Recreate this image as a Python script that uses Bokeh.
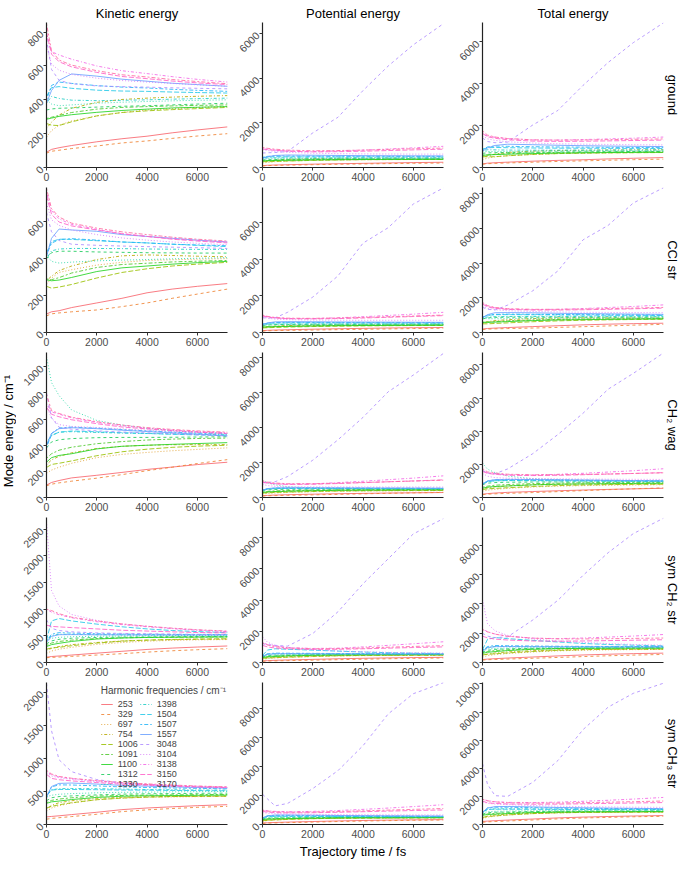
import math
from bokeh.plotting import figure
from bokeh.layouts import gridplot, row
from bokeh.models import Range1d, FixedTicker, SingleIntervalTicker, Title, Legend, LegendItem
from bokeh.core.properties import value
from bokeh.embed import file_html
from bokeh.resources import INLINE

TIME = [0, 200, 500, 1000, 2000, 3000, 4000, 5000, 6000, 7200]
FREQS = ["253", "329", "697", "754", "1006", "1091", "1100", "1312", "1330",
         "1398", "1504", "1507", "1557", "3048", "3104", "3138", "3150", "3170"]
COL_NAMES = ["Kinetic energy", "Potential energy", "Total energy"]
ROW_NAMES = ["ground", "CCl str", "CH\u2082 wag", "sym CH\u2082 str", "sym CH\u2083 str"]
X_TICKS = [0, 2000, 4000, 6000]
Y_TOP = [[857, 6500, 6930], [785, 7900, 8350], [1110, 8300, 8750],
         [2720, 9300, 9900], [2150, 9760, 10100]]
Y_STEP = [[200, 2000, 2000], [200, 2000, 2000], [200, 2000, 2000],
          [500, 2000, 2000], [500, 2000, 2000]]

# ---------------- ground ----------------
KIN_GROUND = [
    [90, 107, 117, 130, 152, 170, 185, 205, 222, 240],
    [85, 96, 102, 112, 127, 145, 157, 172, 186, 200],
    [180, 218, 250, 275, 305, 325, 340, 348, 355, 360],
    [230, 268, 310, 350, 385, 402, 410, 416, 421, 425],
    [260, 250, 248, 270, 305, 325, 335, 342, 348, 355],
    [290, 297, 308, 325, 345, 355, 360, 364, 367, 370],
    [285, 292, 302, 312, 326, 337, 345, 352, 356, 360],
    [340, 346, 350, 352, 357, 362, 365, 370, 375, 380],
    [400, 375, 365, 370, 380, 386, 390, 394, 397, 400],
    [380, 420, 408, 398, 395, 397, 400, 404, 407, 410],
    [420, 472, 478, 468, 457, 452, 450, 446, 443, 440],
    [400, 485, 505, 497, 484, 475, 470, 462, 456, 450],
    [380, 455, 515, 553, 540, 522, 510, 498, 490, 480],
    [760, 580, 515, 495, 482, 478, 475, 471, 468, 465],
    [720, 610, 575, 550, 528, 514, 505, 497, 489, 480],
    [780, 685, 665, 640, 600, 572, 555, 537, 521, 505],
    [800, 670, 625, 595, 562, 538, 525, 511, 500, 490],
    [850, 690, 635, 605, 572, 548, 535, 520, 508, 495],
]
POT_GROUND = [
    [80, 100, 112, 125, 150, 170, 185, 205, 220, 235],
    [70, 85, 95, 105, 125, 145, 160, 175, 188, 200],
    [200, 230, 260, 290, 320, 340, 350, 355, 358, 360],
    [250, 290, 330, 370, 400, 410, 415, 418, 420, 420],
    [260, 260, 270, 290, 320, 340, 350, 355, 358, 360],
    [300, 310, 320, 335, 355, 365, 372, 376, 378, 380],
    [300, 305, 315, 325, 340, 350, 358, 363, 367, 370],
    [340, 350, 360, 365, 375, 380, 383, 386, 388, 390],
    [380, 390, 395, 398, 402, 405, 407, 408, 409, 410],
    [420, 430, 435, 435, 433, 432, 431, 430, 430, 430],
    [450, 470, 480, 478, 475, 472, 471, 470, 470, 470],
    [450, 500, 520, 515, 510, 505, 503, 502, 501, 500],
    [400, 480, 540, 560, 550, 540, 532, 527, 523, 520],
    [650, 660, 670, 720, 1550, 2250, 3450, 4550, 5500, 6450],
    [800, 760, 720, 680, 640, 620, 610, 605, 600, 600],
    [850, 820, 780, 740, 720, 740, 780, 830, 880, 950],
    [830, 800, 770, 730, 700, 710, 730, 760, 790, 820],
    [900, 860, 820, 780, 750, 760, 780, 810, 840, 870],
]
TOT_GROUND = [
    [170, 207, 229, 255, 302, 340, 370, 410, 442, 475],
    [155, 181, 197, 217, 252, 290, 317, 347, 374, 400],
    [380, 448, 510, 565, 625, 665, 690, 703, 713, 720],
    [480, 558, 640, 720, 785, 812, 825, 834, 841, 845],
    [520, 510, 518, 560, 625, 665, 685, 697, 706, 715],
    [590, 607, 628, 660, 700, 720, 732, 740, 745, 750],
    [585, 597, 617, 637, 666, 687, 703, 715, 723, 730],
    [680, 696, 710, 717, 732, 742, 748, 756, 763, 770],
    [780, 765, 760, 768, 782, 791, 797, 802, 806, 810],
    [800, 850, 843, 833, 828, 829, 831, 834, 837, 840],
    [870, 942, 958, 946, 932, 924, 921, 916, 913, 910],
    [850, 985, 1025, 1012, 994, 980, 973, 964, 957, 950],
    [780, 935, 1055, 1113, 1090, 1062, 1042, 1025, 1013, 1000],
    [1410, 1240, 1185, 1215, 2032, 2728, 3925, 5021, 5968, 6915],
    [1520, 1370, 1295, 1230, 1168, 1134, 1115, 1102, 1089, 1080],
    [1630, 1505, 1445, 1380, 1320, 1312, 1335, 1367, 1401, 1455],
    [1630, 1470, 1395, 1325, 1262, 1248, 1255, 1271, 1290, 1310],
    [1750, 1550, 1455, 1385, 1322, 1308, 1315, 1330, 1348, 1365],
]

# ---------------- CCl str ----------------
KIN_CCL = [
    [100, 112, 118, 135, 160, 185, 215, 235, 250, 265],
    [90, 101, 106, 112, 122, 140, 160, 185, 208, 235],
    [260, 295, 325, 340, 365, 380, 390, 394, 397, 400],
    [280, 305, 335, 360, 395, 415, 420, 417, 413, 410],
    [250, 240, 246, 260, 295, 325, 345, 360, 370, 380],
    [290, 286, 297, 322, 352, 368, 375, 382, 386, 390],
    [285, 280, 284, 298, 330, 350, 360, 370, 378, 385],
    [400, 432, 440, 440, 436, 434, 432, 431, 430, 430],
    [420, 385, 376, 381, 388, 392, 395, 399, 402, 405],
    [400, 442, 452, 455, 455, 454, 452, 451, 450, 450],
    [430, 492, 505, 504, 497, 490, 485, 478, 472, 465],
    [420, 483, 503, 508, 500, 490, 485, 478, 474, 470],
    [410, 510, 560, 555, 548, 530, 520, 510, 500, 490],
    [650, 545, 498, 478, 472, 468, 465, 462, 459, 455],
    [700, 610, 580, 555, 530, 512, 500, 490, 483, 475],
    [760, 660, 615, 585, 558, 535, 520, 508, 499, 490],
    [740, 640, 598, 577, 555, 535, 520, 505, 495, 485],
    [780, 670, 625, 592, 565, 545, 530, 516, 505, 495],
]
POT_CCL = [
    [100, 120, 135, 150, 180, 205, 225, 245, 260, 270],
    [80, 95, 105, 115, 135, 155, 175, 195, 215, 235],
    [250, 290, 320, 340, 360, 375, 385, 390, 395, 400],
    [280, 320, 350, 380, 410, 420, 425, 425, 425, 425],
    [250, 260, 275, 295, 325, 345, 360, 370, 378, 385],
    [300, 310, 325, 345, 370, 385, 395, 400, 405, 410],
    [300, 305, 315, 330, 355, 370, 380, 388, 395, 400],
    [380, 410, 430, 440, 445, 448, 450, 452, 454, 455],
    [400, 410, 415, 420, 425, 430, 432, 435, 437, 440],
    [430, 450, 460, 465, 468, 470, 472, 474, 475, 476],
    [450, 500, 520, 525, 525, 522, 520, 518, 516, 515],
    [450, 510, 540, 550, 548, 545, 543, 541, 540, 540],
    [420, 520, 580, 590, 585, 575, 570, 565, 560, 555],
    [800, 790, 800, 1100, 1930, 3080, 4870, 5710, 7000, 7880],
    [850, 780, 730, 700, 680, 670, 665, 665, 665, 665],
    [920, 860, 800, 760, 760, 800, 860, 930, 1000, 1100],
    [900, 840, 790, 750, 740, 760, 790, 830, 870, 920],
    [950, 880, 820, 780, 770, 790, 820, 860, 900, 950],
]
TOT_CCL = [
    [200, 232, 253, 285, 340, 390, 440, 480, 510, 535],
    [170, 196, 211, 227, 257, 295, 335, 380, 423, 470],
    [510, 585, 645, 680, 725, 755, 775, 784, 792, 800],
    [560, 625, 685, 740, 805, 835, 845, 842, 838, 835],
    [500, 500, 521, 555, 620, 670, 705, 730, 748, 765],
    [590, 596, 622, 667, 722, 753, 770, 782, 791, 800],
    [585, 585, 599, 628, 685, 720, 740, 758, 773, 785],
    [780, 842, 870, 880, 881, 882, 882, 883, 884, 885],
    [820, 795, 791, 801, 813, 822, 827, 834, 839, 845],
    [830, 892, 912, 920, 923, 924, 924, 925, 925, 926],
    [880, 992, 1025, 1029, 1022, 1012, 1005, 996, 988, 980],
    [870, 993, 1043, 1058, 1048, 1035, 1028, 1019, 1014, 1010],
    [830, 1030, 1140, 1145, 1133, 1105, 1090, 1075, 1060, 1045],
    [1450, 1335, 1298, 1578, 2402, 3548, 5335, 6172, 7459, 8335],
    [1550, 1390, 1310, 1255, 1210, 1182, 1165, 1155, 1148, 1140],
    [1680, 1520, 1415, 1345, 1318, 1335, 1380, 1438, 1499, 1590],
    [1640, 1480, 1388, 1327, 1295, 1295, 1310, 1335, 1365, 1405],
    [1730, 1550, 1445, 1372, 1335, 1335, 1350, 1376, 1405, 1445],
]

# ---------------- CH2 wag ----------------
KIN_WAG = [
    [95, 115, 130, 150, 170, 192, 215, 233, 252, 270],
    [90, 102, 112, 125, 148, 175, 205, 232, 260, 290],
    [185, 210, 232, 262, 305, 330, 345, 358, 368, 380],
    [250, 288, 315, 342, 375, 392, 400, 404, 405, 405],
    [230, 253, 262, 280, 320, 350, 370, 384, 393, 400],
    [300, 335, 362, 385, 412, 428, 440, 447, 452, 455],
    [270, 305, 322, 335, 372, 392, 400, 407, 413, 420],
    [380, 425, 442, 451, 458, 460, 460, 461, 463, 465],
    [1080, 880, 780, 670, 590, 555, 530, 512, 500, 490],
    [420, 475, 500, 504, 498, 493, 490, 487, 484, 480],
    [400, 475, 500, 509, 503, 496, 490, 484, 479, 475],
    [380, 490, 532, 539, 531, 520, 510, 500, 492, 485],
    [400, 490, 527, 534, 527, 515, 505, 495, 485, 470],
    [800, 610, 538, 523, 510, 501, 495, 488, 481, 475],
    [700, 605, 558, 544, 536, 525, 515, 505, 497, 490],
    [720, 655, 638, 610, 575, 550, 530, 516, 505, 495],
    [690, 637, 618, 595, 565, 540, 525, 512, 500, 490],
    [790, 665, 643, 615, 580, 555, 535, 521, 510, 500],
]
POT_WAG = [
    [100, 120, 140, 160, 190, 215, 235, 255, 270, 285],
    [90, 100, 110, 125, 150, 180, 210, 240, 265, 290],
    [200, 230, 260, 290, 330, 355, 370, 380, 385, 390],
    [260, 300, 330, 360, 395, 410, 415, 418, 420, 420],
    [250, 270, 290, 310, 345, 370, 385, 395, 400, 405],
    [320, 350, 380, 400, 425, 440, 450, 455, 458, 460],
    [290, 320, 340, 360, 390, 410, 420, 428, 434, 440],
    [400, 440, 460, 470, 475, 478, 480, 482, 484, 485],
    [1000, 830, 720, 620, 545, 515, 500, 490, 485, 480],
    [440, 490, 510, 515, 512, 510, 508, 506, 505, 504],
    [420, 480, 510, 520, 520, 518, 515, 512, 510, 508],
    [400, 500, 540, 550, 548, 545, 540, 536, 533, 530],
    [420, 510, 550, 560, 555, 550, 545, 540, 535, 530],
    [840, 860, 900, 1200, 2135, 3300, 4590, 6050, 7010, 8250],
    [750, 680, 640, 620, 610, 605, 602, 600, 600, 600],
    [900, 840, 790, 760, 780, 850, 930, 1020, 1110, 1240],
    [880, 820, 780, 750, 760, 800, 850, 900, 950, 1010],
    [950, 880, 830, 790, 790, 820, 860, 900, 940, 990],
]
TOT_WAG = [
    [195, 235, 270, 310, 360, 407, 450, 488, 522, 555],
    [180, 202, 222, 250, 298, 355, 415, 472, 525, 580],
    [385, 440, 492, 552, 635, 685, 715, 738, 753, 770],
    [510, 588, 645, 702, 770, 802, 815, 822, 825, 825],
    [480, 523, 552, 590, 665, 720, 755, 779, 793, 805],
    [620, 685, 742, 785, 837, 868, 890, 902, 910, 915],
    [560, 625, 662, 695, 762, 802, 820, 835, 847, 860],
    [780, 865, 902, 921, 933, 938, 940, 943, 947, 950],
    [2080, 1710, 1500, 1290, 1135, 1070, 1030, 1002, 985, 970],
    [860, 965, 1010, 1019, 1010, 1003, 998, 993, 989, 984],
    [820, 955, 1010, 1029, 1023, 1014, 1005, 996, 989, 983],
    [780, 990, 1072, 1089, 1079, 1065, 1050, 1036, 1025, 1015],
    [820, 1000, 1077, 1094, 1082, 1065, 1050, 1035, 1020, 1000],
    [1640, 1470, 1438, 1723, 2645, 3801, 5085, 6538, 7491, 8725],
    [1450, 1285, 1198, 1164, 1146, 1130, 1117, 1105, 1097, 1090],
    [1620, 1495, 1428, 1370, 1355, 1400, 1460, 1536, 1615, 1735],
    [1570, 1457, 1398, 1345, 1325, 1340, 1375, 1412, 1450, 1500],
    [1740, 1545, 1473, 1405, 1370, 1375, 1395, 1421, 1450, 1490],
]

# ---------------- sym CH2 str ----------------
KIN_CH2 = [
    [100, 112, 122, 140, 175, 210, 245, 270, 290, 310],
    [90, 96, 102, 115, 140, 165, 195, 220, 240, 260],
    [170, 215, 250, 285, 340, 375, 400, 415, 425, 430],
    [230, 265, 300, 335, 375, 405, 420, 428, 434, 440],
    [250, 272, 285, 315, 365, 400, 420, 432, 440, 445],
    [320, 365, 395, 420, 450, 462, 470, 474, 477, 480],
    [300, 335, 360, 395, 440, 460, 470, 474, 477, 480],
    [350, 405, 435, 455, 470, 477, 480, 484, 487, 490],
    [420, 455, 472, 484, 492, 497, 500, 504, 507, 510],
    [420, 505, 530, 528, 522, 520, 520, 520, 520, 520],
    [420, 780, 825, 780, 720, 670, 630, 600, 580, 560],
    [400, 530, 560, 552, 540, 534, 530, 527, 525, 525],
    [380, 490, 522, 523, 520, 518, 515, 515, 515, 515],
    [800, 640, 600, 575, 555, 545, 540, 533, 528, 525],
    [2650, 1350, 1060, 900, 790, 720, 680, 640, 610, 580],
    [1000, 945, 895, 840, 765, 710, 670, 635, 605, 580],
    [700, 678, 668, 655, 630, 605, 590, 575, 562, 555],
    [1000, 975, 915, 850, 780, 725, 680, 645, 615, 590],
]
POT_CH2 = [
    [100, 120, 140, 165, 200, 240, 270, 295, 315, 330],
    [80, 95, 105, 120, 150, 180, 210, 240, 265, 290],
    [200, 250, 290, 330, 380, 420, 440, 450, 455, 460],
    [260, 310, 350, 390, 430, 455, 465, 470, 475, 475],
    [270, 290, 310, 340, 390, 430, 455, 465, 470, 475],
    [340, 390, 420, 450, 480, 495, 502, 506, 508, 510],
    [320, 360, 385, 420, 460, 485, 495, 500, 503, 505],
    [370, 430, 460, 480, 495, 505, 510, 512, 515, 518],
    [440, 470, 490, 505, 515, 520, 525, 528, 530, 532],
    [430, 530, 560, 565, 560, 555, 552, 550, 550, 550],
    [450, 800, 880, 850, 790, 730, 670, 630, 600, 580],
    [420, 560, 600, 595, 585, 575, 570, 566, 563, 560],
    [400, 520, 560, 565, 560, 558, 555, 553, 552, 550],
    [1200, 1150, 1100, 1050, 1860, 3250, 5050, 6650, 8250, 9230],
    [1650, 1300, 1100, 950, 820, 740, 690, 650, 620, 600],
    [1300, 1150, 1050, 960, 900, 920, 1000, 1100, 1200, 1330],
    [1100, 1000, 930, 880, 840, 850, 880, 920, 960, 1000],
    [1250, 1120, 1020, 940, 880, 890, 930, 980, 1030, 1080],
]
TOT_CH2 = [
    [200, 232, 262, 305, 375, 450, 515, 565, 605, 640],
    [170, 191, 207, 235, 290, 345, 405, 460, 505, 550],
    [370, 465, 540, 615, 720, 795, 840, 865, 880, 890],
    [490, 575, 650, 725, 805, 860, 885, 898, 909, 915],
    [520, 562, 595, 655, 755, 830, 875, 897, 910, 920],
    [660, 755, 815, 870, 930, 957, 972, 980, 985, 990],
    [620, 695, 745, 815, 900, 945, 965, 974, 980, 985],
    [720, 835, 895, 935, 965, 982, 990, 996, 1002, 1008],
    [860, 925, 962, 989, 1007, 1017, 1025, 1032, 1037, 1042],
    [850, 1035, 1090, 1093, 1082, 1075, 1072, 1070, 1070, 1070],
    [870, 1580, 1705, 1630, 1510, 1400, 1300, 1230, 1180, 1140],
    [820, 1090, 1160, 1147, 1125, 1109, 1100, 1093, 1088, 1085],
    [780, 1010, 1082, 1088, 1080, 1076, 1070, 1068, 1067, 1065],
    [2000, 1800, 1700, 1750, 2900, 4250, 5950, 7500, 8800, 9850],
    [4300, 2650, 2160, 1850, 1610, 1460, 1370, 1290, 1230, 1180],
    [2300, 2095, 1945, 1800, 1665, 1630, 1670, 1735, 1805, 1910],
    [1800, 1678, 1598, 1535, 1470, 1455, 1470, 1495, 1522, 1555],
    [2250, 2095, 1935, 1790, 1660, 1615, 1610, 1625, 1645, 1670],
]

# ---------------- sym CH3 str ----------------
KIN_CH3 = [
    [115, 122, 132, 150, 185, 225, 250, 268, 285, 300],
    [80, 92, 103, 120, 155, 195, 222, 242, 260, 275],
    [200, 250, 285, 325, 375, 400, 412, 418, 422, 425],
    [230, 290, 330, 360, 395, 412, 420, 424, 427, 430],
    [250, 275, 298, 330, 375, 400, 415, 423, 427, 430],
    [330, 365, 385, 405, 430, 440, 445, 449, 452, 455],
    [320, 343, 355, 378, 410, 428, 435, 438, 442, 445],
    [360, 405, 423, 433, 448, 460, 465, 468, 472, 475],
    [420, 443, 458, 468, 480, 487, 490, 494, 497, 500],
    [430, 525, 542, 545, 543, 536, 530, 526, 523, 520],
    [440, 522, 530, 530, 527, 522, 520, 516, 513, 510],
    [400, 570, 600, 598, 585, 568, 560, 553, 547, 540],
    [420, 575, 622, 628, 612, 592, 580, 570, 560, 550],
    [2140, 1420, 980, 800, 680, 630, 600, 580, 565, 555],
    [780, 735, 708, 685, 650, 620, 600, 586, 573, 560],
    [800, 755, 718, 695, 660, 630, 610, 593, 578, 565],
    [760, 698, 678, 660, 635, 610, 595, 581, 570, 560],
    [820, 765, 728, 700, 665, 635, 615, 598, 583, 570],
]
POT_CH3 = [
    [100, 120, 140, 165, 205, 245, 275, 300, 320, 335],
    [80, 95, 110, 130, 165, 205, 240, 265, 290, 310],
    [220, 270, 310, 350, 400, 430, 445, 452, 456, 460],
    [250, 310, 350, 385, 420, 440, 450, 455, 458, 460],
    [260, 290, 315, 350, 400, 430, 445, 452, 456, 460],
    [350, 390, 410, 430, 455, 465, 470, 474, 477, 480],
    [340, 365, 380, 400, 435, 455, 462, 466, 470, 472],
    [380, 430, 450, 460, 475, 485, 490, 494, 497, 500],
    [440, 465, 480, 490, 502, 510, 515, 518, 520, 522],
    [450, 550, 570, 572, 570, 563, 557, 553, 550, 548],
    [460, 550, 560, 560, 556, 550, 546, 542, 540, 538],
    [420, 600, 630, 628, 615, 598, 590, 583, 577, 570],
    [440, 600, 650, 655, 640, 620, 608, 598, 588, 578],
    [2080, 1760, 1280, 1450, 2470, 3700, 5420, 7600, 8990, 9750],
    [820, 780, 750, 730, 700, 680, 670, 665, 660, 660],
    [1000, 940, 900, 880, 900, 960, 1040, 1130, 1230, 1360],
    [900, 850, 820, 800, 810, 840, 880, 920, 960, 1000],
    [980, 920, 880, 850, 860, 890, 940, 990, 1040, 1100],
]
TOT_CH3 = [
    [215, 242, 272, 315, 390, 470, 525, 568, 605, 635],
    [160, 187, 213, 250, 320, 400, 462, 507, 550, 585],
    [420, 520, 595, 675, 775, 830, 857, 870, 878, 885],
    [480, 600, 680, 745, 815, 852, 870, 879, 885, 890],
    [510, 565, 613, 680, 775, 830, 860, 875, 883, 890],
    [680, 755, 795, 835, 885, 905, 915, 923, 929, 935],
    [660, 708, 735, 778, 845, 883, 897, 904, 912, 917],
    [740, 835, 873, 893, 923, 945, 955, 962, 969, 975],
    [860, 908, 938, 958, 982, 997, 1005, 1012, 1017, 1022],
    [880, 1075, 1112, 1117, 1113, 1099, 1087, 1079, 1073, 1068],
    [900, 1072, 1090, 1090, 1083, 1072, 1066, 1058, 1053, 1048],
    [820, 1170, 1230, 1226, 1200, 1166, 1150, 1136, 1124, 1110],
    [860, 1175, 1272, 1283, 1252, 1212, 1188, 1168, 1148, 1128],
    [4340, 2850, 2050, 2000, 3000, 4550, 6750, 8350, 9330, 10050],
    [1600, 1515, 1458, 1415, 1350, 1300, 1270, 1251, 1233, 1220],
    [1800, 1695, 1618, 1575, 1560, 1590, 1650, 1723, 1808, 1925],
    [1660, 1548, 1498, 1460, 1445, 1450, 1475, 1501, 1530, 1560],
    [1800, 1685, 1608, 1550, 1525, 1525, 1555, 1588, 1623, 1670],
]

PANELS = [
    [KIN_GROUND, POT_GROUND, TOT_GROUND],
    [KIN_CCL, POT_CCL, TOT_CCL],
    [KIN_WAG, POT_WAG, TOT_WAG],
    [KIN_CH2, POT_CH2, TOT_CH2],
    [KIN_CH3, POT_CH3, TOT_CH3],
]

# ---------------- styles ----------------
COLORS = ["#F8656D", "#EE8333", "#E0A030", "#B8A800", "#99C000", "#4CC82A",
          "#22D422", "#1ACB5A", "#2AD8A8", "#1CCCC4", "#22C8E8", "#22B4F8",
          "#6AA0FF", "#AE8CFF", "#D77AF8", "#F366E6", "#FF5FC8", "#FF6AA0"]
DASH_CYCLE = ["solid", "3 3", "1 2", "1 2 3 2", "5 2", "2 2 4 2"]
FONT = "Liberation Sans"

FRAME_W = 181
FRAME_H = 145
LEFT = [30, 33, 37]
RIGHT = [2, 2, 20]
TOP = [22, 2, 2, 2, 2]
BOTTOM = [18, 18, 18, 18, 34]

grid = []
for r in range(5):
    rowfigs = []
    for c in range(3):
        p = figure(width=LEFT[c] + FRAME_W + RIGHT[c],
                   height=TOP[r] + FRAME_H + BOTTOM[r],
                   x_range=Range1d(0, 7200), y_range=Range1d(0, Y_TOP[r][c]),
                   output_backend="svg", toolbar_location=None,
                   min_border_left=LEFT[c], min_border_right=RIGHT[c],
                   min_border_top=TOP[r], min_border_bottom=BOTTOM[r])
        p.grid.visible = False
        p.outline_line_color = None
        p.background_fill_color = "white"
        p.xaxis.ticker = FixedTicker(ticks=X_TICKS)
        p.yaxis.ticker = SingleIntervalTicker(interval=Y_STEP[r][c], num_minor_ticks=0)
        p.yaxis.major_label_orientation = math.pi / 4
        for ax in (p.xaxis[0], p.yaxis[0]):
            ax.axis_line_color = "#222222"
            ax.axis_line_width = 1.2
            ax.major_tick_line_color = "#333333"
            ax.major_tick_out = 3
            ax.major_tick_in = 0
            ax.minor_tick_line_color = None
            ax.major_label_text_color = "#4D4D4D"
            ax.major_label_text_font = FONT
            ax.major_label_text_font_size = "10.5px"
            ax.major_label_standoff = 2
        data = PANELS[r][c]
        renderers = []
        for i in range(len(FREQS)):
            rr = p.line(TIME, data[i], line_color=COLORS[i],
                        line_dash=DASH_CYCLE[i % 6], line_width=1.0, line_alpha=0.85)
            renderers.append(rr)
        if r == 0:
            p.title.text = COL_NAMES[c]
            p.title.align = "center"
            p.title.text_font = FONT
            p.title.text_font_size = "13px"
            p.title.text_font_style = "normal"
            p.title.text_color = "black"
            p.title.standoff = 4
        if c == 2:
            t = Title(text=ROW_NAMES[r], align="center", text_font=FONT,
                      text_font_size="13px", text_font_style="normal",
                      text_color="black", standoff=3)
            p.add_layout(t, "right")
        if r == 4 and c == 0:
            items = [LegendItem(label=FREQS[i], renderers=[renderers[i]])
                     for i in range(len(FREQS))]
            leg = Legend(items=items, location="top_right", orientation="vertical",
                         nrows=9, title="Harmonic frequencies / cm\u207b\u00b9",
                         title_text_font=FONT, title_text_font_size="10px",
                         title_text_font_style="normal", title_standoff=2,
                         label_text_font=FONT, label_text_font_size="9px",
                         label_height=10, label_standoff=5, label_width=22,
                         glyph_height=10, glyph_width=12, spacing=0,
                         padding=1, margin=0,
                         background_fill_alpha=0, border_line_alpha=0)
            p.add_layout(leg)
        if r == 4 and c == 1:
            p.xaxis.axis_label = "Trajectory time / fs"
            p.xaxis.axis_label_text_font = FONT
            p.xaxis.axis_label_text_font_size = "13px"
            p.xaxis.axis_label_text_font_style = "normal"
            p.xaxis.axis_label_text_color = "black"
            p.xaxis.axis_label_standoff = 3
        rowfigs.append(p)
    grid.append(rowfigs)

gp = gridplot(grid, toolbar_location=None)

total_h = sum(TOP) + sum(BOTTOM) + 5 * FRAME_H
ylab = figure(width=16, height=total_h, x_range=Range1d(0, 1), y_range=Range1d(0, 1),
              x_axis_type=None, y_axis_type=None, output_backend="svg",
              toolbar_location=None, min_border=0)
ylab.grid.visible = False
ylab.outline_line_color = None
ylab.text(x=[0.5], y=[0.5], text=["Mode energy / cm\u207b\u00b9"], angle=math.pi / 2,
          text_align="center", text_baseline="middle", text_font=value(FONT),
          text_font_size="13px", text_color="black")

layout = row(ylab, gp)
open("out.html", "w").write(file_html(layout, INLINE))
